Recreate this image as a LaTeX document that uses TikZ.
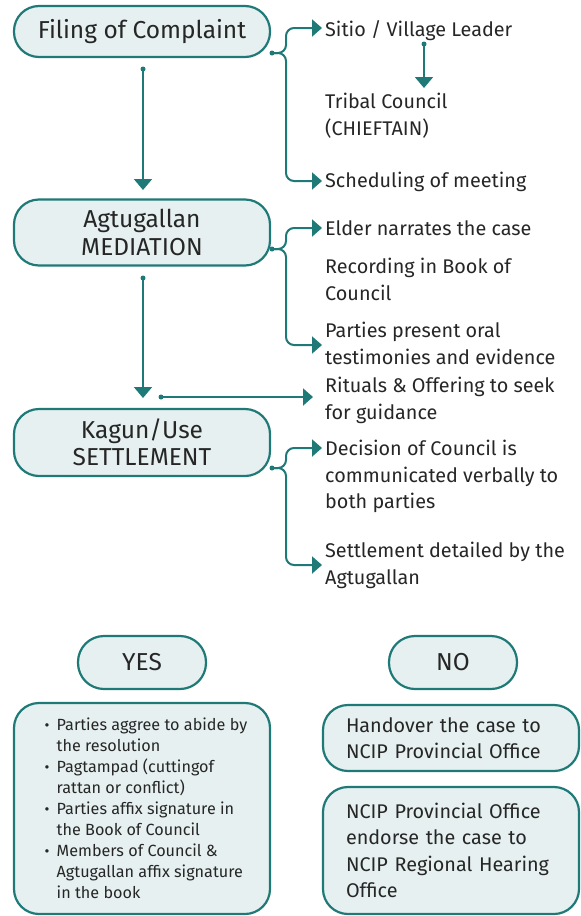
\documentclass[tikz,border=0pt]{standalone}
\usepackage{fontspec}
\setmainfont{Fira Sans}
\usetikzlibrary{arrows.meta}
\definecolor{flowline}{HTML}{1F7A77}
\definecolor{flowfill}{HTML}{E6F0F0}
\definecolor{flowtext}{HTML}{262626}
\newcommand\stagefont{\fontsize{24.5}{27.5}\selectfont}
\newcommand\notefont{\fontsize{19.8}{26.5}\selectfont}
\newcommand\listfont{\fontsize{16.2}{21}\selectfont}
\newcommand\dotitem{\hspace*{8pt}\makebox[12pt][l]{\fontsize{15}{10}\selectfont\textbullet}}
\newcommand\hang{\hspace*{20pt}}
\begin{document}
\begin{tikzpicture}[x=1pt,y=-1pt,
  every node/.style={text=flowtext},
  stage/.style={draw=flowline, fill=flowfill, line width=2.2pt, rounded corners=25pt,
    minimum width=256pt, align=center, font=\stagefont, inner sep=0pt},
  answer/.style={draw=flowline, fill=flowfill, line width=2.2pt, rounded corners=26pt,
    minimum width=128pt, minimum height=53pt, font=\stagefont, inner sep=0pt},
  outcome/.style={draw=flowline, fill=flowfill, line width=2.2pt, rounded corners=25pt,
    text width=210pt, inner xsep=23pt, inner ysep=0pt, align=left, font=\notefont},
  note/.style={anchor=north west, inner sep=0pt, align=left, font=\notefont},
  link/.style={draw=flowline, line width=2pt, rounded corners=8pt,
    -{Triangle[width=17pt,length=10pt]}},
  flow/.style={draw=flowline, line width=2pt, -{Triangle[width=18pt,length=11pt]}},
  dot/.style={circle, fill=flowline, inner sep=0pt, minimum size=5pt}
]
\useasboundingbox (0,0) rectangle (581,916);

% main stages
\node[stage, minimum height=51pt] (filing) at (142,31.5) {Filing of Complaint};
\node[stage, minimum height=66pt] (mediation) at (142,232.5) {Agtugallan\\MEDIATION};
\node[stage, minimum height=67pt] (settlement) at (142,442.5) {Kagun/Use\\SETTLEMENT};

% notes beside the stages
\node[note] (sitio) at (325,20) {Sitio / Village Leader};
\node[note] (tribal) at (325,93) {Tribal Council\\(CHIEFTAIN)};
\node[note] (sched) at (325,172) {Scheduling of meeting};
\node[note] (elder) at (325,220) {Elder narrates the case};
\node[note] (record) at (325,258) {Recording in Book of\\Council};
\node[note] (parties) at (325,322) {Parties present oral\\testimonies and evidence};
\node[note] (rituals) at (325,377) {Rituals \& Offering to seek\\for guidance};
\node[note] (decision) at (325,440) {Decision of Council is\\communicated verbally to\\both parties};
\node[note] (detail) at (325,542) {Settlement detailed by the\\Agtugallan};

% yes / no branches
\node[answer] (yes) at (142,662.5) {YES};
\node[answer] (no) at (453,662.5) {NO};
\node[stage, minimum height=211pt, align=left, font=\listfont, rounded corners=25pt] (yeslist) at (142,808.5)
  {\dotitem Parties aggree to abide by\\\hang the resolution\\
   \dotitem Pagtampad (cuttingof\\\hang rattan or conflict)\\
   \dotitem Parties affix signature in\\\hang the Book of Council\\
   \dotitem Members of Council \&\\\hang Agtugallan affix signature\\\hang in the book};
\node[outcome, minimum height=66pt] (handover) at (451,738) {Handover the case to\\NCIP Provincial Office};
\node[outcome, minimum height=127pt] (endorse) at (451,850.5) {NCIP Provincial Office\\endorse the case to\\NCIP Regional Hearing\\Office};

% connector start points and arrow tips
\node[dot] (f0) at (272,53) {};
\node[dot] (m0) at (272,249) {};
\node[dot] (s0) at (272,468) {};
\node[dot] (fd) at (143,69) {};
\node[dot] (md) at (143,278) {};
\node[dot] (rd) at (161,397) {};
\node[dot] (sd) at (424,44) {};
\coordinate (tSitio) at (322,28);
\coordinate (tSched) at (322,181);
\coordinate (tElder) at (322,228);
\coordinate (tParties) at (322,345);
\coordinate (tRituals) at (313,397);
\coordinate (tDecision) at (322,448);
\coordinate (tDetail) at (322,565);
\coordinate (tTribal) at (424,88);
\coordinate (tMed) at (143,190);
\coordinate (tSet) at (143,398);

% branching connectors
\draw[link] (f0.center) -- (286,53) |- (tSitio);
\draw[link] (f0.center) -- (286,53) |- (tSched);
\draw[link] (m0.center) -- (286,249) |- (tElder);
\draw[link] (m0.center) -- (286,249) |- (tParties);
\draw[link] (s0.center) -- (286,468) |- (tDecision);
\draw[link] (s0.center) -- (286,468) |- (tDetail);

% straight connectors
\draw[flow] (fd.center) -- (tMed);
\draw[flow] (md.center) -- (tSet);
\draw[flow] (sd.center) -- (tTribal);
\draw[flow, -{Triangle[width=17pt,length=10pt]}] (rd.center) -- (tRituals);
\end{tikzpicture}
\end{document}
